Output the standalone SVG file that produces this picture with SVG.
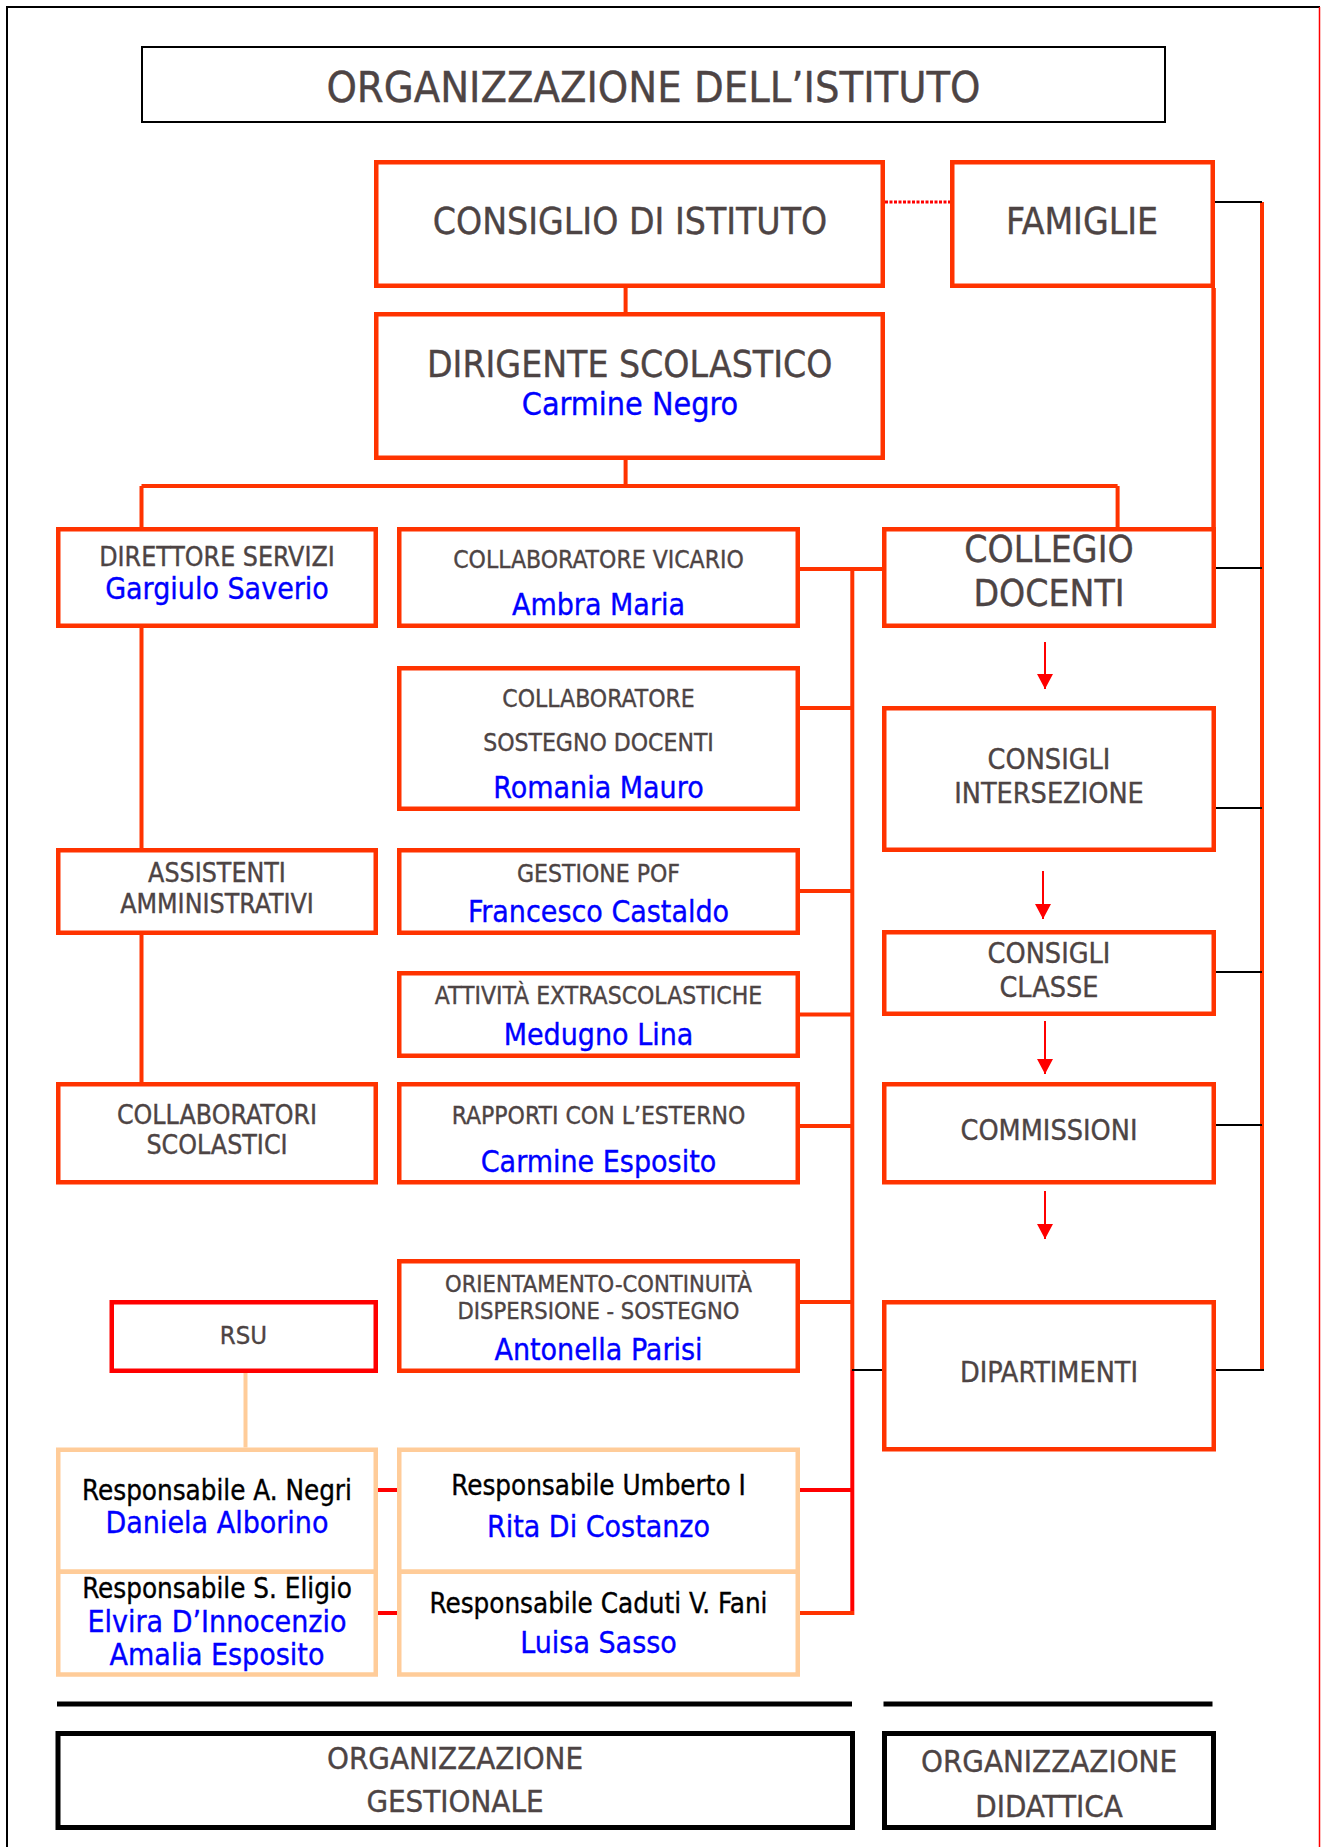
<svg xmlns="http://www.w3.org/2000/svg" width="1322" height="1847" viewBox="0 0 1322 1847">
<defs>
<style>
text{font-family:"DejaVu Sans Condensed","DejaVu Sans",sans-serif;font-stretch:condensed;text-anchor:middle;stroke-width:0.35px}
.t{fill:#4d4444;stroke:#4d4444}
.b{fill:#0000ff;stroke:#0000ff}
.k{fill:#000;stroke:#000}
.ob{fill:#fff;stroke:#ff3300;stroke-width:4.5}
.rb{fill:#fff;stroke:#ff0000;stroke-width:4.5}
.pb{fill:#fff;stroke:#ffcc99;stroke-width:4.5}
.kb{fill:#fff;stroke:#000;stroke-width:5}
.oc{fill:none;stroke:#ff3300;stroke-width:4}
.rc{fill:none;stroke:#ff0000;stroke-width:4}
.pc{fill:none;stroke:#ffcc99;stroke-width:4}
.kc{fill:none;stroke:#000;stroke-width:2}
.ar{fill:none;stroke:#ff0000;stroke-width:2;marker-end:url(#ah)}
</style>
<marker id="ah" markerUnits="userSpaceOnUse" markerWidth="15" markerHeight="16" refX="15" refY="8" orient="auto">
<path d="M0,0 L15,8 L0,16 Z" fill="#ff0000"/>
</marker>
</defs>
<rect width="1322" height="1847" fill="#fff"/>
<g id="frame">
<path d="M7,7 H1320" stroke="#000" stroke-width="2" fill="none"/>
<path d="M7,6 V1847" stroke="#000" stroke-width="2" fill="none"/>
<path d="M1319.5,7 V1847" stroke="#ff0000" stroke-width="1.5" fill="none"/>
</g>
<g id="connectors">
<path class="oc" d="M625.6,288 V312 M625.6,460 V486 M141.5,486 H1117.6 M141.5,486 V527 M1117.6,486 V527"/>
<path class="oc" d="M1213.6,288 V527" style="stroke-width:4.5"/>
<path class="oc" d="M1262,202 V1370"/>
<path class="oc" d="M800,569 H882 M852.3,569 V1370"/>
<path class="rc" d="M852.3,1370 V1615"/>
<path class="oc" d="M800,708 H852 M800,891 H852 M800,1014.5 H852 M800,1126 H852 M800,1302 H852 M800,1613 H854"/>
<path class="rc" d="M800,1490 H852"/>
<path class="oc" d="M141.5,628 V848 M141.5,935 V1082"/>
<path class="kc" d="M1215,202 H1262 M1216,568 H1262 M1216,808 H1262 M1216,972 H1262 M1216,1125 H1262 M1216,1370 H1264 M852,1370 H882"/>
<path d="M885,202 H950" stroke="#ff0000" stroke-width="3" stroke-dasharray="3 1.5" fill="none"/>
<path class="pc" d="M245.5,1373 V1447.5"/>
<path class="rc" d="M378,1490 H397 M378,1613 H397"/>
<path class="ar" d="M1045,642 V689"/>
<path class="ar" d="M1043,871 V919"/>
<path class="ar" d="M1045,1021 V1074"/>
<path class="ar" d="M1045,1191 V1239"/>
<path d="M57,1704 H852 M883.5,1704 H1212.5" stroke="#000" stroke-width="5" fill="none"/>
</g>
<g id="title">
<rect x="142" y="47" width="1023" height="75" fill="#fff" stroke="#000" stroke-width="2"/>
<text class="t" x="653.5" y="101.7" font-size="43">ORGANIZZAZIONE DELL’ISTITUTO</text>
</g>
<g id="consiglio">
<rect class="ob" x="376.25" y="162.25" width="506.5" height="123.5"/>
<text class="t" x="630" y="233.5" font-size="37">CONSIGLIO DI ISTITUTO</text>
</g>
<g id="famiglie">
<rect class="ob" x="952.25" y="162.25" width="260.5" height="123.5"/>
<text class="t" x="1082" y="234.3" font-size="37">FAMIGLIE</text>
</g>
<g id="dirigente">
<rect class="ob" x="376.25" y="314.25" width="506.5" height="143.5"/>
<text class="t" x="629.7" y="376.7" font-size="37">DIRIGENTE SCOLASTICO</text>
<text class="b" x="630" y="415" font-size="32">Carmine Negro</text>
</g>
<g id="direttore">
<rect class="ob" x="58.25" y="529.25" width="317.5" height="96.5"/>
<text class="t" x="217" y="565.7" font-size="26.5">DIRETTORE SERVIZI</text>
<text class="b" x="217" y="599" font-size="30">Gargiulo Saverio</text>
</g>
<g id="vicario">
<rect class="ob" x="399.25" y="529.25" width="398.5" height="96.5"/>
<text class="t" x="598.5" y="567.7" font-size="24.5">COLLABORATORE VICARIO</text>
<text class="b" x="598.5" y="615" font-size="30">Ambra Maria</text>
</g>
<g id="collegio">
<rect class="ob" x="884.25" y="529.25" width="329.5" height="96.5"/>
<text class="t" x="1049" y="562.3" font-size="37">COLLEGIO</text>
<text class="t" x="1049" y="605.7" font-size="37">DOCENTI</text>
</g>
<g id="sostegno">
<rect class="ob" x="399.25" y="668.25" width="398.5" height="140.5"/>
<text class="t" x="598.5" y="707" font-size="24.5">COLLABORATORE</text>
<text class="t" x="598.5" y="751.4" font-size="24.5">SOSTEGNO DOCENTI</text>
<text class="b" x="598.5" y="798.2" font-size="30">Romania Mauro</text>
</g>
<g id="intersezione">
<rect class="ob" x="884.25" y="708.25" width="329.5" height="141.5"/>
<text class="t" x="1049" y="768.6" font-size="28.5">CONSIGLI</text>
<text class="t" x="1049" y="802.5" font-size="28.5">INTERSEZIONE</text>
</g>
<g id="assistenti">
<rect class="ob" x="58.25" y="850.25" width="317.5" height="82.5"/>
<text class="t" x="217" y="882" font-size="26.5">ASSISTENTI</text>
<text class="t" x="217" y="913.2" font-size="26.5">AMMINISTRATIVI</text>
</g>
<g id="pof">
<rect class="ob" x="399.25" y="850.25" width="398.5" height="82.5"/>
<text class="t" x="598.5" y="882" font-size="24.5">GESTIONE POF</text>
<text class="b" x="598.5" y="922" font-size="30">Francesco Castaldo</text>
</g>
<g id="classe">
<rect class="ob" x="884.25" y="932.25" width="329.5" height="81.5"/>
<text class="t" x="1049" y="963.2" font-size="28.5">CONSIGLI</text>
<text class="t" x="1049" y="997" font-size="28.5">CLASSE</text>
</g>
<g id="attivita">
<rect class="ob" x="399.25" y="973.25" width="398.5" height="82.5"/>
<text class="t" x="598.5" y="1004.3" font-size="24.5">ATTIVITÀ EXTRASCOLASTICHE</text>
<text class="b" x="598.5" y="1045.4" font-size="30">Medugno Lina</text>
</g>
<g id="collaboratori">
<rect class="ob" x="58.25" y="1084.25" width="317.5" height="98"/>
<text class="t" x="217" y="1124" font-size="26.5">COLLABORATORI</text>
<text class="t" x="217" y="1154.3" font-size="26.5">SCOLASTICI</text>
</g>
<g id="rapporti">
<rect class="ob" x="399.25" y="1084.25" width="398.5" height="98"/>
<text class="t" x="598.5" y="1124" font-size="24.5">RAPPORTI CON L’ESTERNO</text>
<text class="b" x="598.5" y="1172" font-size="30">Carmine Esposito</text>
</g>
<g id="commissioni">
<rect class="ob" x="884.25" y="1084.25" width="329.5" height="98"/>
<text class="t" x="1049" y="1140" font-size="28.5">COMMISSIONI</text>
</g>
<g id="orientamento">
<rect class="ob" x="399.25" y="1261.25" width="398.5" height="109.5"/>
<text class="t" x="598.5" y="1292.3" font-size="23.5">ORIENTAMENTO-CONTINUITÀ</text>
<text class="t" x="598.5" y="1319.3" font-size="23.5">DISPERSIONE - SOSTEGNO</text>
<text class="b" x="598.5" y="1360" font-size="30">Antonella Parisi</text>
</g>
<g id="rsu">
<rect class="rb" x="111.75" y="1302.25" width="264" height="68.5"/>
<text class="t" x="243.4" y="1344.3" font-size="25.5">RSU</text>
</g>
<g id="dipartimenti">
<rect class="ob" x="884.25" y="1302.25" width="329.5" height="147"/>
<text class="t" x="1049" y="1381.7" font-size="28.5">DIPARTIMENTI</text>
</g>
<g id="negri">
<rect class="pb" x="58.25" y="1449.75" width="317.5" height="122"/>
<text class="k" x="217" y="1500" font-size="27.5">Responsabile A. Negri</text>
<text class="b" x="217" y="1533.3" font-size="30">Daniela Alborino</text>
</g>
<g id="eligio">
<rect class="pb" x="58.25" y="1571.75" width="317.5" height="102.75"/>
<text class="k" x="217" y="1598.3" font-size="27.5">Responsabile S. Eligio</text>
<text class="b" x="217" y="1631.7" font-size="30">Elvira D’Innocenzio</text>
<text class="b" x="217" y="1665" font-size="30">Amalia Esposito</text>
</g>
<g id="umberto">
<rect class="pb" x="399.25" y="1449.75" width="398.5" height="122"/>
<text class="k" x="598.5" y="1495" font-size="27.5">Responsabile Umberto I</text>
<text class="b" x="598.5" y="1536.7" font-size="30">Rita Di Costanzo</text>
</g>
<g id="fani">
<rect class="pb" x="399.25" y="1571.75" width="398.5" height="102.75"/>
<text class="k" x="598.5" y="1613.3" font-size="27.5">Responsabile Caduti V. Fani</text>
<text class="b" x="598.5" y="1653.3" font-size="30">Luisa Sasso</text>
</g>
<g id="gestionale">
<rect class="kb" x="58" y="1733.5" width="794.5" height="94"/>
<text class="t" x="455" y="1769" font-size="31">ORGANIZZAZIONE</text>
<text class="t" x="455" y="1811.7" font-size="31">GESTIONALE</text>
</g>
<g id="didattica">
<rect class="kb" x="884.5" y="1733.5" width="329" height="94"/>
<text class="t" x="1049" y="1771.7" font-size="31">ORGANIZZAZIONE</text>
<text class="t" x="1049" y="1816.7" font-size="31">DIDATTICA</text>
</g>
</svg>
